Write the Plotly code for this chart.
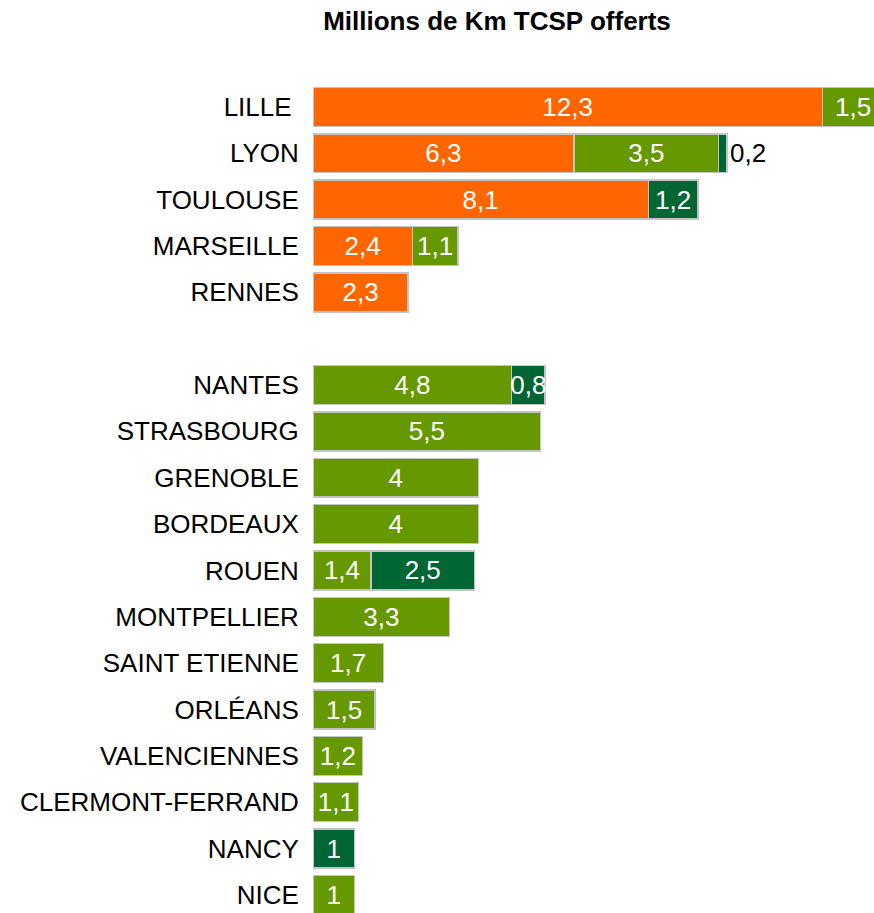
import plotly.graph_objects as go

# Cities, top to bottom; an empty slot separates the two groups
cities_top = ["LILLE\u00a0", "LYON", "TOULOUSE", "MARSEILLE", "RENNES"]
cities_bottom = ["NANTES", "STRASBOURG", "GRENOBLE", "BORDEAUX", "ROUEN",
                 "MONTPELLIER", "SAINT ETIENNE", "ORLÉANS", "VALENCIENNES",
                 "CLERMONT-FERRAND", "NANCY", "NICE"]

# Millions of km offered, by mode (None = no service)
metro = [12.3, 6.3, 8.1, 2.4, 2.3,
         None, None, None, None, None, None, None, None, None, None, None, None]
tram = [1.5, 3.5, None, 1.1, None,
        4.8, 5.5, 4, 4, 1.4, 3.3, 1.7, 1.5, 1.2, 1.1, None, 1]
bus_hns = [None, 0.2, 1.2, None, None,
           0.8, None, None, None, 2.5, None, None, None, None, None, 1, None]

cities = cities_top + cities_bottom
positions = list(range(len(cities_top))) + [len(cities_top) + 1 + i for i in range(len(cities_bottom))]

X_MAX = 13.55


def fr(v):
    if v is None:
        return ""
    return (f"{v:g}").replace(".", ",")


FONT = "Liberation Sans, Arial, sans-serif"
TXT = 26
series = [
    ("Métro", metro, "#FF6600"),
    ("Tramway", tram, "#669900"),
    ("BHNS", bus_hns, "#006633"),
]

fig = go.Figure()
base = [0.0] * len(cities)
overflow_labels = []
for name, vals, color in series:
    textpos, texts = [], []
    for i, v in enumerate(vals):
        if v is not None and base[i] + v > X_MAX:
            # segment runs past the right edge: label it separately
            overflow_labels.append((base[i] + v / 2, positions[i], fr(v)))
            texts.append("")
        else:
            texts.append(fr(v))
        textpos.append("outside" if (v is not None and v < 0.5) else "inside")
    fig.add_trace(go.Bar(
        name=name,
        y=positions,
        x=vals,
        orientation="h",
        marker=dict(color=color, line=dict(color="#C4C4C4", width=1.5)),
        width=0.84,
        text=texts,
        textposition=textpos,
        insidetextanchor="middle",
        textangle=0,
        constraintext="none",
        insidetextfont=dict(color="white", size=TXT, family=FONT),
        outsidetextfont=dict(color="black", size=TXT, family=FONT),
        cliponaxis=False,
        hoverinfo="skip",
    ))
    base = [b + (v or 0) for b, v in zip(base, vals)]

for xv, yv, label in overflow_labels:
    fig.add_annotation(x=xv, y=yv, xref="x", yref="y", text=label,
                       showarrow=False, xanchor="center", yanchor="middle",
                       font=dict(color="white", size=TXT, family=FONT))

fig.update_layout(
    barmode="stack",
    width=874,
    height=913,
    margin=dict(l=313, r=0, t=80, b=0),
    paper_bgcolor="white",
    plot_bgcolor="white",
    showlegend=False,
    font=dict(family=FONT, color="black"),
    title=dict(
        text="<b>Millions de Km TCSP offerts</b>",
        x=497 / 874, xref="container", xanchor="center",
        y=1 - 21 / 913, yanchor="middle",
        font=dict(size=26, color="black", family=FONT),
    ),
    xaxis=dict(range=[0, X_MAX], visible=False, fixedrange=True),
    yaxis=dict(
        range=[17.39, -0.58],
        tickvals=positions,
        ticktext=cities,
        tickfont=dict(size=TXT, color="black", family=FONT),
        ticks="outside", ticklen=8, tickcolor="rgba(0,0,0,0)",
        showgrid=False, zeroline=False, showline=False,
    ),
)

fig.write_html("out.html")
